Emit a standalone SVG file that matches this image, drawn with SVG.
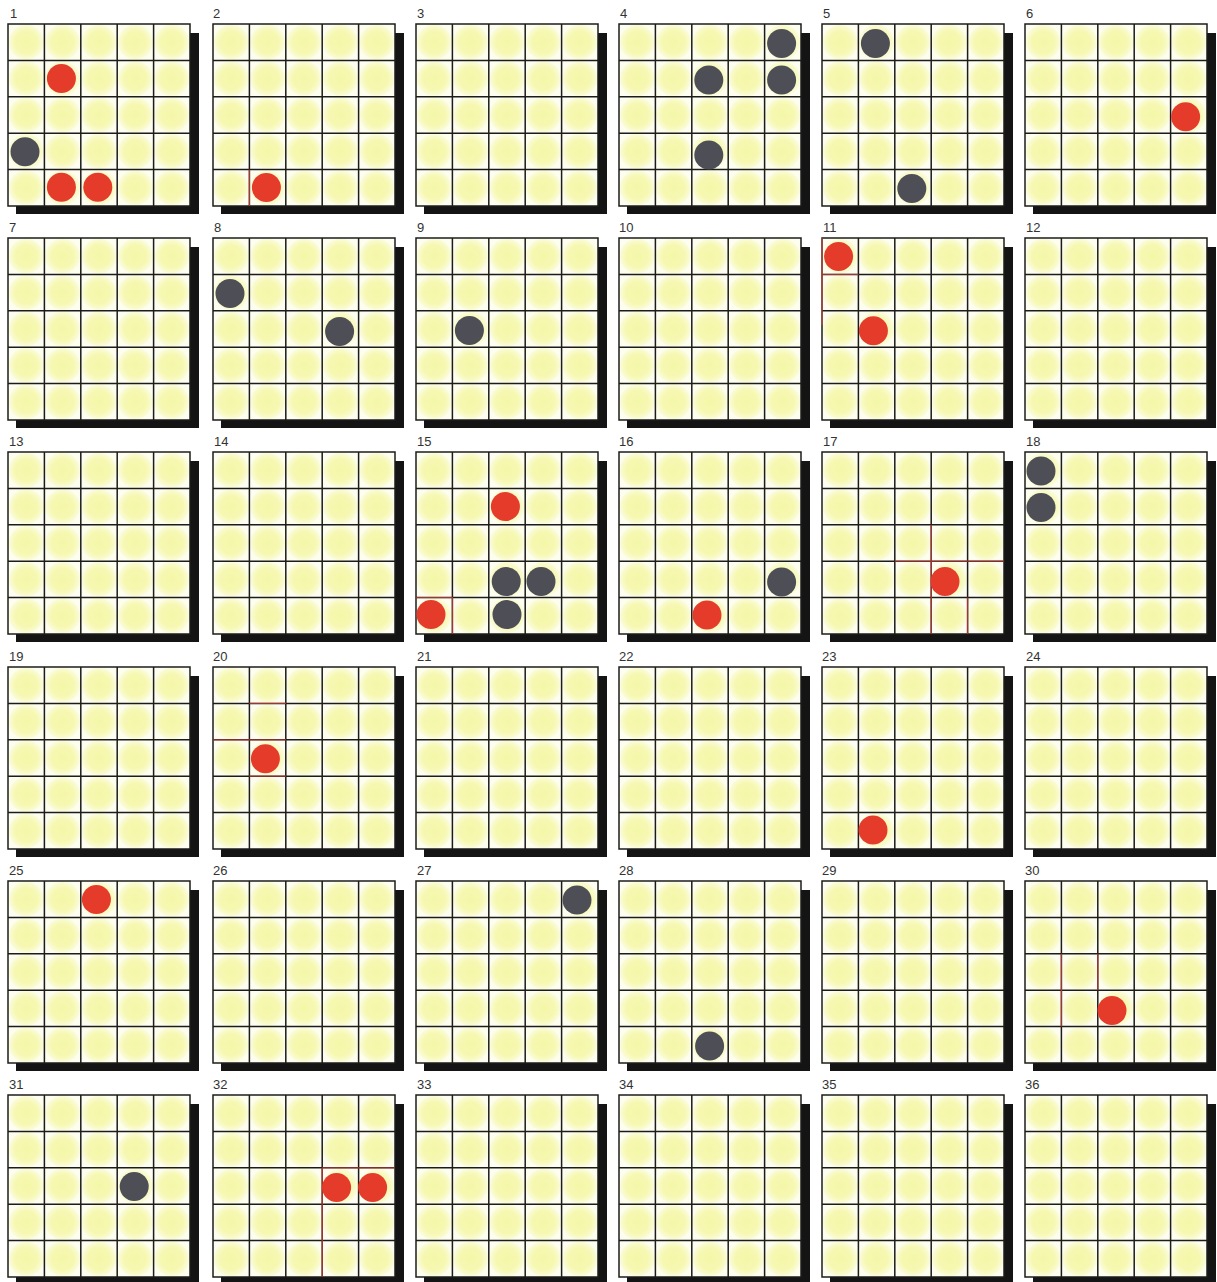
<svg xmlns="http://www.w3.org/2000/svg" xmlns:xlink="http://www.w3.org/1999/xlink" width="1217" height="1282" viewBox="0 0 1217 1282">
<style>
.num{font-family:"Liberation Sans",Arial,sans-serif;font-size:13px;fill:#333;}
.red{fill:#e43b2a;}
.gray{fill:#4e4e56;}
.hl{stroke:#e8463a;stroke-width:1.3;fill:none;opacity:0.65;}
</style>
<defs>
<radialGradient id="yl" cx="0.5" cy="0.5" r="0.5">
<stop offset="0" stop-color="#f4f7a8"/>
<stop offset="0.65" stop-color="#f6f8b2"/>
<stop offset="1" stop-color="#fbfcdc"/>
</radialGradient>
<pattern id="cells" patternUnits="objectBoundingBox" patternContentUnits="objectBoundingBox" width="0.2" height="0.2">
<rect width="0.2" height="0.2" fill="#fdfdf0"/>
<circle cx="0.1" cy="0.1" r="0.096" fill="url(#yl)"/>
</pattern>
<g id="board">
<path d="M182 9h9v181H8v-8h174z" fill="#141414"/>
<rect x="0" y="0" width="182" height="182" fill="url(#cells)"/>
<path d="M0 0H182V182H0Z M36.4 0V182 M72.8 0V182 M109.2 0V182 M145.6 0V182 M0 36.4H182 M0 72.8H182 M0 109.2H182 M0 145.6H182" fill="none" stroke="#1c1c1c" stroke-width="1.5"/>
</g>
</defs>
<g id="panel-1"><use href="#board" x="8" y="24"/><text class="num" x="10" y="18">1</text>
<circle class="red" cx="61.4" cy="78.4" r="14.5"/><circle class="gray" cx="25" cy="151.8" r="14.5"/><circle class="red" cx="61.4" cy="187.2" r="14.5"/><circle class="red" cx="97.8" cy="187.2" r="14.5"/></g>
<g id="panel-2"><use href="#board" x="213" y="24"/><text class="num" x="213" y="18">2</text>
<path class="hl" d="M249.4 169.6V206"/><circle class="red" cx="266.4" cy="187.6" r="14.5"/></g>
<g id="panel-3"><use href="#board" x="416" y="24"/><text class="num" x="417" y="18">3</text></g>
<g id="panel-4"><use href="#board" x="619" y="24"/><text class="num" x="620" y="18">4</text>
<circle class="gray" cx="781.6" cy="43.6" r="14.5"/><circle class="gray" cx="708.8" cy="80" r="14.5"/><circle class="gray" cx="781.6" cy="80" r="14.5"/><circle class="gray" cx="708.8" cy="155" r="14.5"/></g>
<g id="panel-5"><use href="#board" x="822" y="24"/><text class="num" x="823" y="18">5</text>
<circle class="gray" cx="875.4" cy="43.6" r="14.5"/><circle class="gray" cx="911.8" cy="188.6" r="14.5"/></g>
<g id="panel-6"><use href="#board" x="1025" y="24"/><text class="num" x="1026" y="18">6</text>
<circle class="red" cx="1185.6" cy="116.8" r="14.5"/></g>

<g id="panel-7"><use href="#board" x="8" y="238"/><text class="num" x="9" y="232">7</text></g>
<g id="panel-8"><use href="#board" x="213" y="238"/><text class="num" x="214" y="232">8</text>
<circle class="gray" cx="230" cy="293.6" r="14.5"/><circle class="gray" cx="339.6" cy="331.6" r="14.5"/></g>
<g id="panel-9"><use href="#board" x="416" y="238"/><text class="num" x="417" y="232">9</text>
<circle class="gray" cx="469.4" cy="330.4" r="14.5"/></g>
<g id="panel-10"><use href="#board" x="619" y="238"/><text class="num" x="619" y="232">10</text></g>
<g id="panel-11"><use href="#board" x="822" y="238"/><text class="num" x="823" y="232">11</text>
<path class="hl" d="M822 238V325 M822 274.4H858.4"/><circle class="red" cx="838.6" cy="256.4" r="14.5"/><circle class="red" cx="873.4" cy="330.8" r="14.5"/></g>
<g id="panel-12"><use href="#board" x="1025" y="238"/><text class="num" x="1026" y="232">12</text></g>

<g id="panel-13"><use href="#board" x="8" y="452"/><text class="num" x="9" y="446">13</text></g>
<g id="panel-14"><use href="#board" x="213" y="452"/><text class="num" x="214" y="446">14</text></g>
<g id="panel-15"><use href="#board" x="416" y="452"/><text class="num" x="417" y="446">15</text>
<path class="hl" d="M416 597.6H452.4V634"/><circle class="red" cx="505.4" cy="506.6" r="14.5"/><circle class="gray" cx="506.2" cy="581.6" r="14.5"/><circle class="gray" cx="541" cy="581.6" r="14.5"/><circle class="gray" cx="507" cy="614.6" r="14.5"/><circle class="red" cx="431" cy="614.6" r="14.5"/></g>
<g id="panel-16"><use href="#board" x="619" y="452"/><text class="num" x="619" y="446">16</text>
<circle class="gray" cx="781.6" cy="582" r="14.5"/><circle class="red" cx="707" cy="615" r="14.5"/></g>
<g id="panel-17"><use href="#board" x="822" y="452"/><text class="num" x="823" y="446">17</text>
<path class="hl" d="M894.8 561.2H1004 M931.2 524.8V634 M967.6 597.6V634"/><circle class="red" cx="945" cy="581.6" r="14.5"/></g>
<g id="panel-18"><use href="#board" x="1025" y="452"/><text class="num" x="1026" y="446">18</text>
<circle class="gray" cx="1041" cy="471" r="14.5"/><circle class="gray" cx="1041" cy="507.4" r="14.5"/></g>

<g id="panel-19"><use href="#board" x="8" y="667"/><text class="num" x="9" y="661">19</text></g>
<g id="panel-20"><use href="#board" x="213" y="667"/><text class="num" x="213" y="661">20</text>
<path class="hl" d="M213 739.8H286 M249.4 776.2H286 M249.4 703.4H286"/><circle class="red" cx="265.4" cy="758.8" r="14.5"/></g>
<g id="panel-21"><use href="#board" x="416" y="667"/><text class="num" x="417" y="661">21</text></g>
<g id="panel-22"><use href="#board" x="619" y="667"/><text class="num" x="619" y="661">22</text></g>
<g id="panel-23"><use href="#board" x="822" y="667"/><text class="num" x="822" y="661">23</text>
<circle class="red" cx="873" cy="830" r="14.5"/></g>
<g id="panel-24"><use href="#board" x="1025" y="667"/><text class="num" x="1026" y="661">24</text></g>

<g id="panel-25"><use href="#board" x="8" y="881"/><text class="num" x="9" y="875">25</text>
<circle class="red" cx="96.4" cy="899.4" r="14.5"/></g>
<g id="panel-26"><use href="#board" x="213" y="881"/><text class="num" x="213" y="875">26</text></g>
<g id="panel-27"><use href="#board" x="416" y="881"/><text class="num" x="417" y="875">27</text>
<circle class="gray" cx="577" cy="900" r="14.5"/></g>
<g id="panel-28"><use href="#board" x="619" y="881"/><text class="num" x="619" y="875">28</text>
<circle class="gray" cx="709.6" cy="1046" r="14.5"/></g>
<g id="panel-29"><use href="#board" x="822" y="881"/><text class="num" x="822" y="875">29</text></g>
<g id="panel-30"><use href="#board" x="1025" y="881"/><text class="num" x="1025" y="875">30</text>
<path class="hl" d="M1061.4 953.8V1026.6 M1097.8 953.8V990.2"/><circle class="red" cx="1112" cy="1010.6" r="14.5"/></g>

<g id="panel-31"><use href="#board" x="8" y="1095"/><text class="num" x="9" y="1089">31</text>
<circle class="gray" cx="134.2" cy="1186.6" r="14.5"/></g>
<g id="panel-32"><use href="#board" x="213" y="1095"/><text class="num" x="213" y="1089">32</text>
<path class="hl" d="M322.2 1167.8V1277 M322.2 1167.8H395"/><circle class="red" cx="336.6" cy="1187.6" r="14.5"/><circle class="red" cx="372.6" cy="1187.6" r="14.5"/></g>
<g id="panel-33"><use href="#board" x="416" y="1095"/><text class="num" x="417" y="1089">33</text></g>
<g id="panel-34"><use href="#board" x="619" y="1095"/><text class="num" x="619" y="1089">34</text></g>
<g id="panel-35"><use href="#board" x="822" y="1095"/><text class="num" x="822" y="1089">35</text></g>
<g id="panel-36"><use href="#board" x="1025" y="1095"/><text class="num" x="1025" y="1089">36</text></g>
</svg>
